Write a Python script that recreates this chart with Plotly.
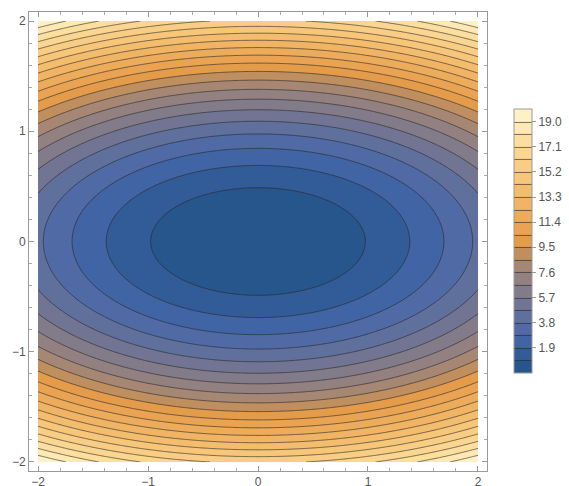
import numpy as np
import plotly.graph_objects as go

# Grid of the plotted function f(x, y) = x^2 + 4 y^2 on [-2, 2] x [-2, 2]
x_vals = np.linspace(-2, 2, 241)
y_vals = np.linspace(-2, 2, 241)
X, Y = np.meshgrid(x_vals, y_vals)
Z = X**2 + 4 * Y**2

z_min = 0.0
z_max = 20.0
n_bands = 21
level_step = (z_max - z_min) / n_bands

band_colors = [
    "#27568c", "#3b61a0", "#4566a8", "#556ca3", "#65719a", "#757690",
    "#857c87", "#958180", "#a88872", "#c08f5e", "#e49c4b", "#e9a352",
    "#edab5a", "#f0b363", "#f3bb6c", "#f6c476", "#f8cc81", "#fad48c",
    "#fcdb98", "#fde3a6", "#fff1c6",
]

tick_vals = [1.905, 3.810, 5.714, 7.619, 9.524, 11.429, 13.333, 15.238, 17.143, 19.048]
tick_text = ["1.9", "3.8", "5.7", "7.6", "9.5", "11.4", "13.3", "15.2", "17.1", "19.0"]
axis_ticks = [-2, -1, 0, 1, 2]

colorscale = []
for i, c in enumerate(band_colors):
    colorscale.append([(i + 0.5) / n_bands, c])
colorscale = [[0.0, band_colors[0]]] + colorscale + [[1.0, band_colors[-1]]]

fig = go.Figure(
    go.Contour(
        x=x_vals, y=y_vals, z=Z,
        zmin=z_min, zmax=z_max,
        autocontour=False,
        contours=dict(start=level_step, end=z_max - level_step / 2, size=level_step,
                      coloring="fill", showlines=True),
        line=dict(color="rgba(40,40,40,0.7)", width=0.9, smoothing=1.3),
        colorscale=colorscale,
        colorbar=dict(
            x=(514 - 29) / 458, xanchor="left", xpad=0,
            y=(471 - 241) / 459, yanchor="middle", ypad=0,
            len=264 / 459, lenmode="fraction",
            thickness=18,
            outlinecolor="#999999", outlinewidth=1,
            tickvals=tick_vals, ticktext=tick_text,
            ticks="outside", ticklen=4, tickcolor="#999999",
            tickfont=dict(family="Liberation Sans, Arial", size=12, color="#555555"),
        ),
        hoverinfo="skip",
    )
)

axis_common = dict(
    showgrid=False, zeroline=False, automargin=False,
    showline=True, linecolor="#999999", linewidth=1, mirror="ticks",
    ticks="inside", ticklen=5, tickcolor="#999999",
    tickvals=axis_ticks,
    tickfont=dict(family="Liberation Sans, Arial", size=12, color="#555555"),
    minor=dict(dtick=0.2, ticks="inside", ticklen=3, tickcolor="#aaaaaa"),
)

fig.update_xaxes(range=[-2.082, 2.082], **axis_common)
fig.update_yaxes(range=[-2.082, 2.082], **axis_common)

fig.update_layout(
    width=569, height=486,
    margin=dict(l=29, r=82, t=12, b=15, autoexpand=False),
    paper_bgcolor="white", plot_bgcolor="white",
    showlegend=False,
)

fig.write_html(
    "out.html",
    config={"displayModeBar": False, "responsive": False},
    post_script="document.body.style.margin='0';document.body.style.overflow='hidden';",
)
